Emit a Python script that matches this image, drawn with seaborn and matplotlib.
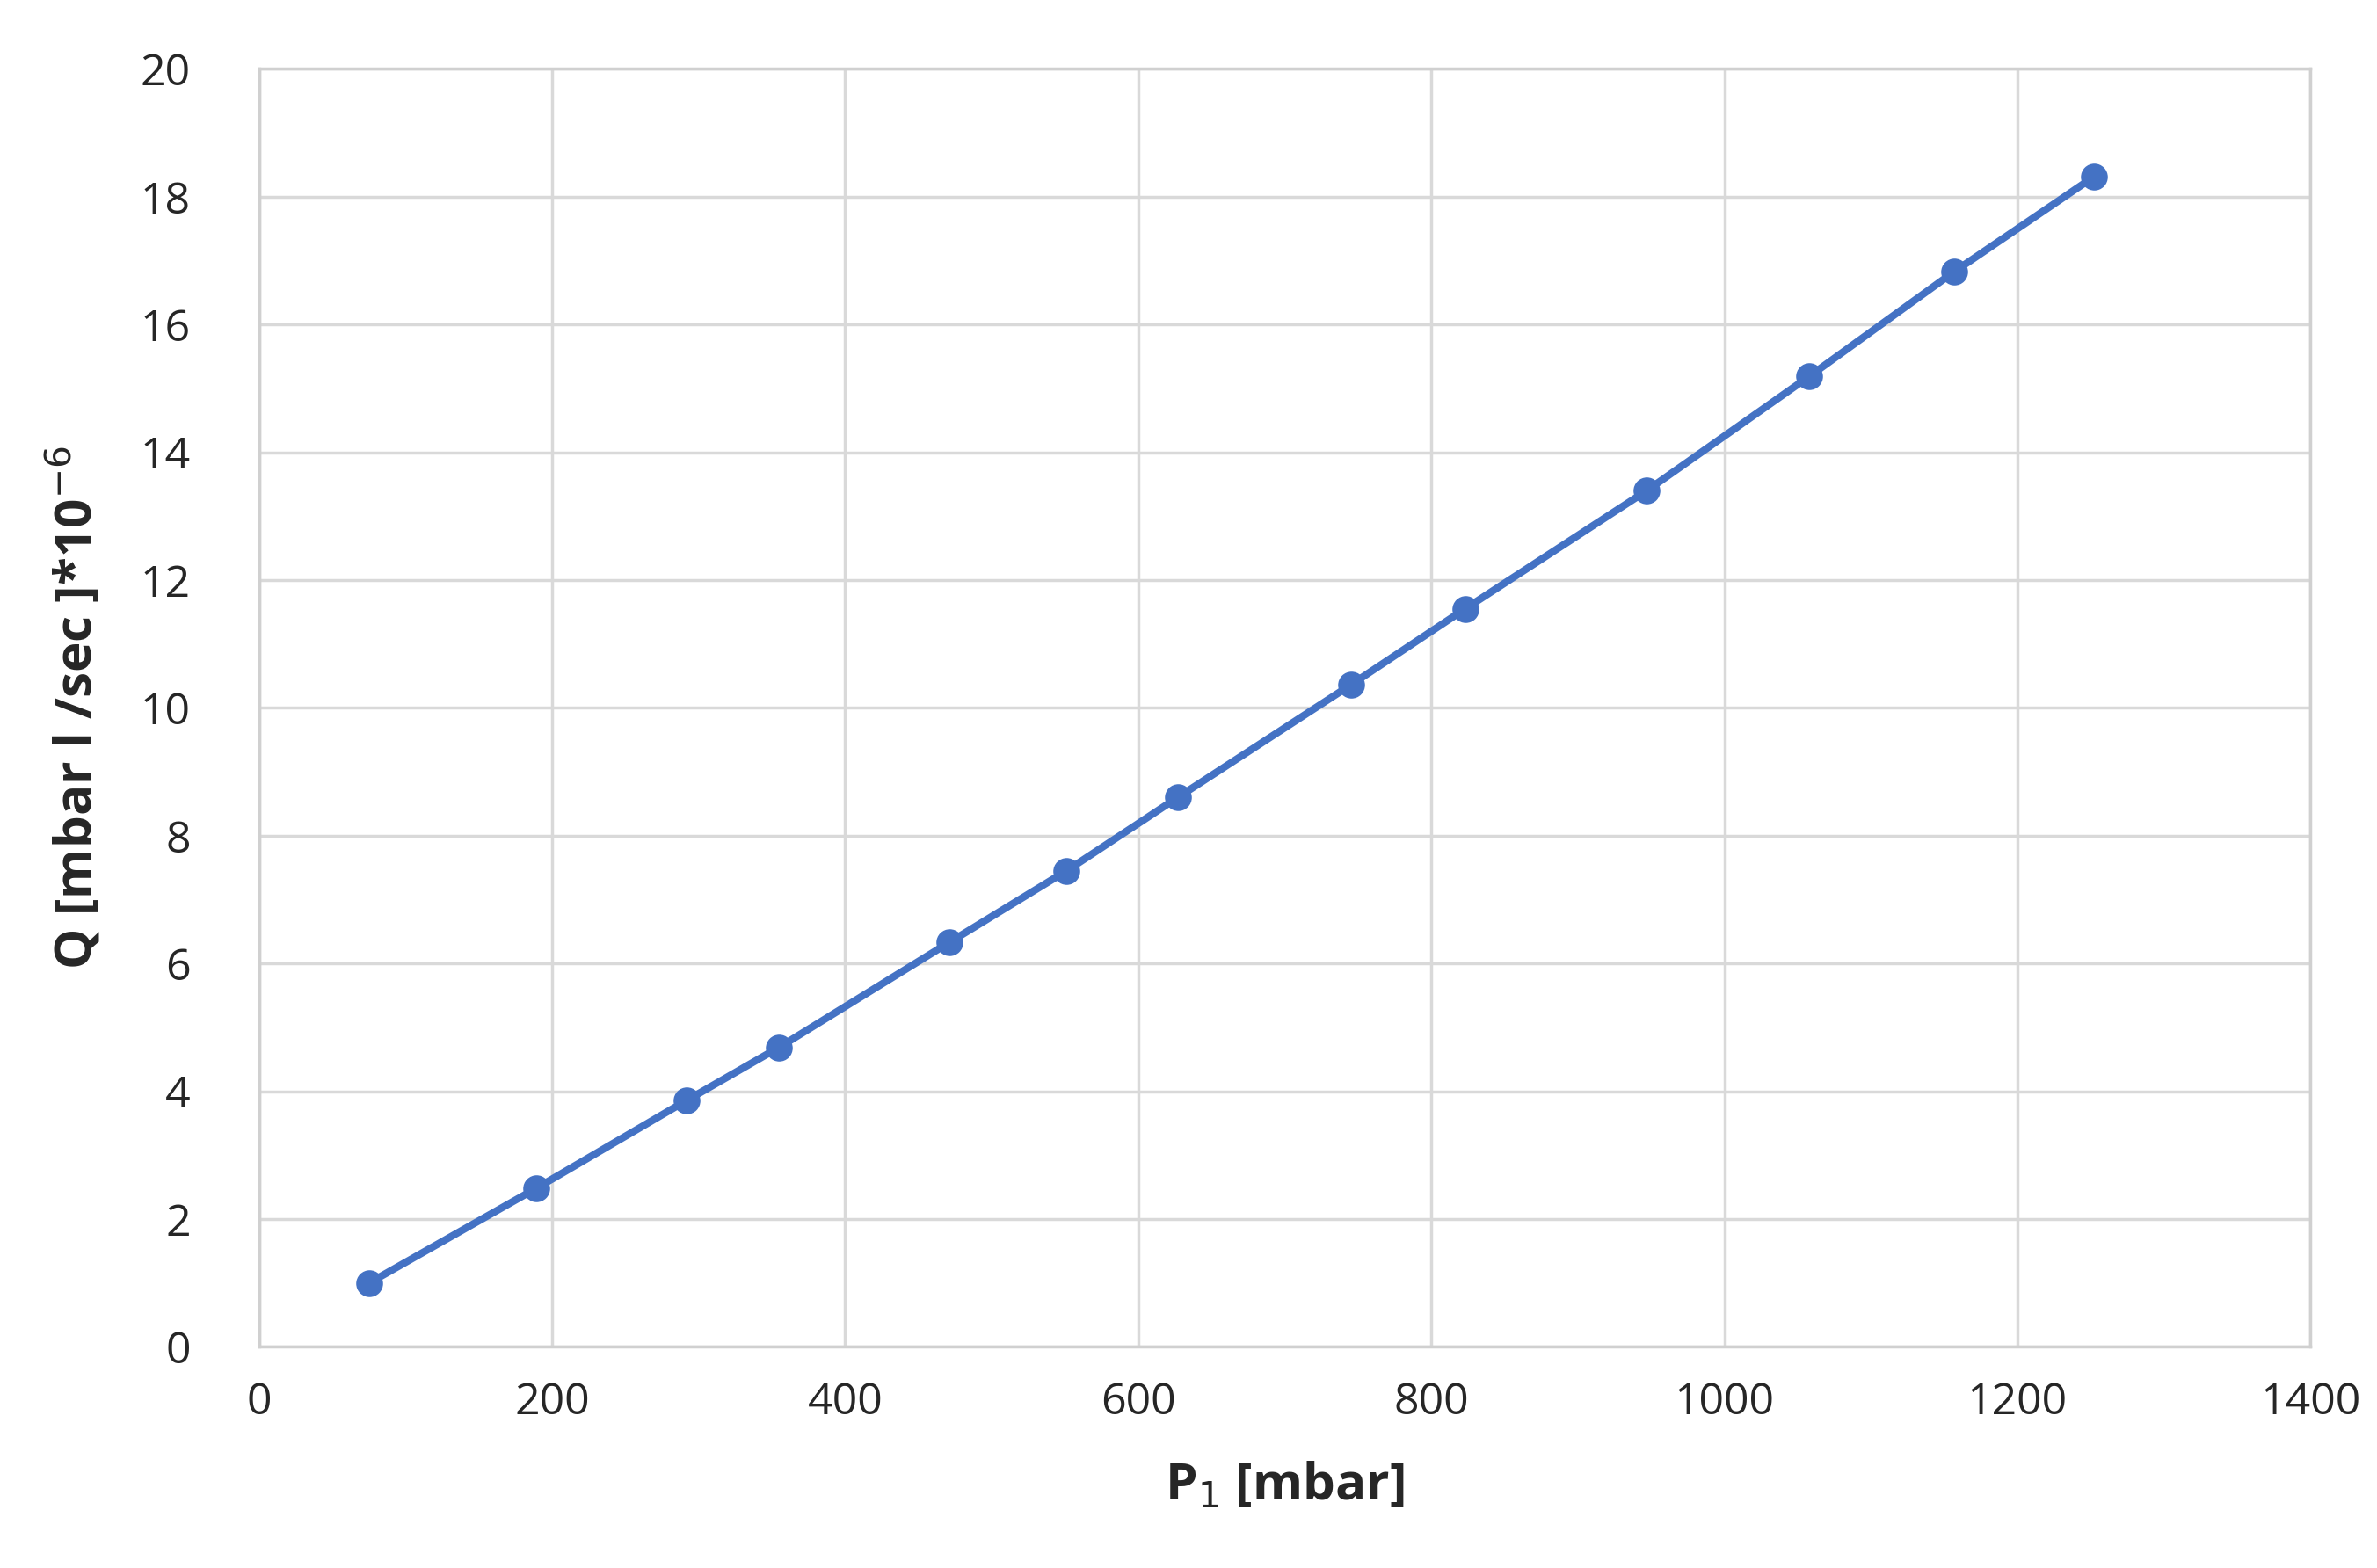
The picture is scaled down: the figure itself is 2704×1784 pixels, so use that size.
import matplotlib
matplotlib.use("Agg")
import matplotlib.pyplot as plt
import seaborn as sns
import pandas as pd

# values
p1_mbar = [75, 189, 292, 355, 471, 551, 627, 745, 823, 947, 1058, 1157, 1252]
q_flow = [1.0, 2.48, 3.86, 4.69, 6.33, 7.45, 8.6, 10.36, 11.55, 13.4, 15.19, 16.83, 18.31]

df = pd.DataFrame({"P1": p1_mbar, "Q": q_flow})

sns.set_theme(style="whitegrid")
plt.rcParams['font.family'] = ['Open Sans', 'DejaVu Sans']

fig = plt.figure(figsize=(27.04, 17.84), dpi=100)
ax = fig.add_axes([0.109, 0.141, 0.863, 0.815])

sns.lineplot(data=df, x="P1", y="Q", ax=ax, color="#4472C4", linewidth=6,
             marker="o", markersize=22, markeredgewidth=0)

ax.set_xlim(0, 1400)
ax.set_ylim(0, 20)
ax.set_xticks(range(0, 1401, 200))
ax.set_yticks(range(0, 21, 2))
ax.tick_params(axis="y", labelsize=36, colors="#262626", pad=50)
ax.tick_params(axis="x", labelsize=36, colors="#262626", pad=22)
ax.grid(True, color="#d9d9d9", linewidth=2.5)
for s in ax.spines.values():
    s.set_color("#d0d0d0")
    s.set_linewidth(2.5)

ax.set_xlabel(r"P$_1$ [mbar]", fontsize=42, fontweight="bold", labelpad=30)
ax.set_ylabel(r"Q [mbar l /sec ]*10$^{-6}$", fontsize=42, fontweight="bold", labelpad=30)

fig.savefig("out.png", dpi=100, facecolor="white")
